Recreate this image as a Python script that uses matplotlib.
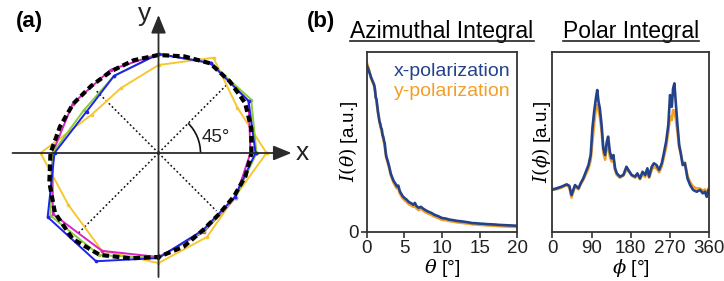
import numpy as np
import matplotlib
matplotlib.use("Agg")
import matplotlib.pyplot as plt
from matplotlib.patches import Arc
from matplotlib.lines import Line2D

plt.rcParams['font.family'] = ['Liberation Sans', 'DejaVu Sans']
plt.rcParams['mathtext.fontset'] = 'dejavuserif'

# ---------------- panel (a) data: polygon radii (pixel units) ----------------
poly_angles = [0, 30, 60, 90, 120, 150, 180, 210, 240, 270, 300, 330]
r_blue = [97, 104, 104, 99, 89, 83, 104, 128, 125, 105, 89, 88]
r_magenta = [92, 104, 104, 99, 96, 99, 106, 122, 113, 104, 91, 89]
r_green = [98, 107, 104, 99, 89, 86, 106, 125, 118, 105, 90, 89]
r_yellow = [108, 91, 110, 88, 75, 77, 118, 104, 113, 110, 97, 88]

ref_angles = [0, 15, 30, 45, 60, 75, 90, 105, 120, 135, 150, 165, 180, 195, 210,
              225, 240, 255, 270, 285, 300, 315, 330, 345]
r_ref = [93, 96, 100, 101, 103.5, 100, 98, 96, 94.5, 95, 98.5, 102, 108, 113,
         119.6, 121.5, 117.6, 109, 104, 97, 89, 86, 87, 90]

diag_angles = [45, 135, 225, 315]
diag_lengths = [96, 88, 113, 82]

# ---------------- panel (b) data ----------------
theta_az = [0, 0.2, 0.4, 0.6, 0.8, 1.0, 1.1, 1.2, 1.3, 1.4, 1.5, 1.6, 1.7, 1.8, 1.9,
            2.0, 2.1, 2.2, 2.3, 2.4, 2.5, 2.6, 2.8, 3.0, 3.2, 3.4, 3.6, 3.8, 4.0,
            4.2, 4.4, 4.6, 4.8, 5.0, 5.3, 5.6, 5.9, 6.2, 6.4, 6.6, 6.9, 7.2, 7.5,
            7.8, 8.2, 8.6, 9.0, 9.5, 10, 10.5, 11, 11.5, 12, 12.5, 13, 13.5, 14,
            14.5, 15, 15.5, 16, 16.5, 17, 17.5, 18, 18.5, 19, 19.5, 20]
I_az_x = [0.925, 0.905, 0.880, 0.855, 0.835, 0.815, 0.790, 0.745, 0.735, 0.700,
          0.665, 0.640, 0.612, 0.600, 0.578, 0.570, 0.538, 0.528, 0.505, 0.490,
          0.448, 0.418, 0.392, 0.360, 0.322, 0.300, 0.280, 0.268, 0.252, 0.256,
          0.225, 0.210, 0.196, 0.188, 0.178, 0.165, 0.158, 0.150, 0.160, 0.143,
          0.133, 0.138, 0.128, 0.120, 0.111, 0.104, 0.094, 0.086, 0.076, 0.073,
          0.067, 0.064, 0.060, 0.058, 0.055, 0.052, 0.048, 0.047, 0.045, 0.044,
          0.042, 0.041, 0.040, 0.038, 0.037, 0.036, 0.035, 0.034, 0.033]
I_az_y = [0.940, 0.915, 0.885, 0.850, 0.830, 0.805, 0.780, 0.755, 0.725, 0.690,
          0.660, 0.635, 0.605, 0.590, 0.570, 0.555, 0.530, 0.515, 0.495, 0.470,
          0.440, 0.410, 0.380, 0.350, 0.315, 0.290, 0.270, 0.255, 0.240, 0.240,
          0.212, 0.198, 0.185, 0.176, 0.165, 0.152, 0.146, 0.138, 0.146, 0.130,
          0.120, 0.128, 0.117, 0.108, 0.100, 0.093, 0.084, 0.076, 0.066, 0.064,
          0.059, 0.056, 0.052, 0.050, 0.047, 0.045, 0.041, 0.040, 0.038, 0.037,
          0.035, 0.034, 0.033, 0.031, 0.030, 0.029, 0.028, 0.027, 0.026]

phi_pol = [0, 10, 21, 33, 39, 44, 52, 60, 65, 71, 77, 83, 88, 92, 96, 100, 103, 106,
           109, 113, 117, 121, 125, 128, 132, 136, 140, 144, 148, 155, 163, 170, 177,
           182, 190, 195, 201, 207, 213, 218, 222, 228, 233, 239, 245, 251, 255, 261,
           266, 270, 274, 277, 280, 283, 287, 291, 294, 299, 304, 310, 316, 323, 331,
           339, 345, 350, 354, 358, 360]
I_pol_x = [0.232, 0.241, 0.250, 0.263, 0.255, 0.204, 0.259, 0.241, 0.269, 0.296,
           0.333, 0.370, 0.426, 0.574, 0.667, 0.741, 0.787, 0.722, 0.685, 0.593,
           0.463, 0.426, 0.500, 0.528, 0.444, 0.407, 0.426, 0.352, 0.324, 0.306,
           0.315, 0.361, 0.333, 0.315, 0.306, 0.324, 0.296, 0.333, 0.315, 0.352,
           0.306, 0.361, 0.380, 0.370, 0.343, 0.380, 0.426, 0.500, 0.593, 0.759,
           0.694, 0.796, 0.824, 0.722, 0.593, 0.481, 0.444, 0.370, 0.380, 0.296,
           0.259, 0.232, 0.222, 0.232, 0.213, 0.222, 0.194, 0.232, 0.222]
I_pol_y = [0.240, 0.236, 0.245, 0.258, 0.248, 0.190, 0.250, 0.236, 0.262, 0.288,
           0.320, 0.352, 0.398, 0.500, 0.600, 0.690, 0.704, 0.672, 0.640, 0.560,
           0.440, 0.400, 0.470, 0.490, 0.415, 0.390, 0.405, 0.340, 0.315, 0.300,
           0.312, 0.345, 0.330, 0.312, 0.300, 0.318, 0.292, 0.320, 0.305, 0.335,
           0.300, 0.345, 0.360, 0.352, 0.330, 0.365, 0.405, 0.470, 0.555, 0.640,
           0.620, 0.676, 0.670, 0.630, 0.555, 0.465, 0.440, 0.380, 0.385, 0.310,
           0.275, 0.250, 0.240, 0.240, 0.228, 0.235, 0.215, 0.240, 0.235]

az_xticks = [0, 5, 10, 15, 20]
pol_xticks = [0, 90, 180, 270, 360]
legend_labels = ['x-polarization', 'y-polarization']

BLUE_LINE = '#23428a'
ORANGE_LINE = '#f0a02a'

W, H = 724, 281
fig = plt.figure(figsize=(W / 100, H / 100), dpi=100)

# ---------------- panel (a) ----------------
axa = fig.add_axes([0, 0, 330 / W, 1])
axa.set_xlim(-158.5, 171.5)
axa.set_ylim(-128, 153)
axa.axis('off')

def closed_xy(angles, radii):
    a = np.deg2rad(np.array(list(angles) + [angles[0]], dtype=float))
    r = np.array(list(radii) + [radii[0]], dtype=float)
    return r * np.cos(a), r * np.sin(a)

axcol = '#2b2b2b'
axa.annotate('', xy=(133, 0), xytext=(-146, 0),
             arrowprops=dict(arrowstyle='-|>,head_length=1.1,head_width=0.45',
                             color=axcol, lw=1.3, shrinkA=0, shrinkB=0))
axa.annotate('', xy=(0, 138), xytext=(0, -124),
             arrowprops=dict(arrowstyle='-|>,head_length=1.1,head_width=0.45',
                             color=axcol, lw=1.3, shrinkA=0, shrinkB=0))
axa.text(143.5, 0, 'x', fontsize=19, ha='center', va='center', color='#222')
axa.text(-14, 139, 'y', fontsize=19, ha='center', va='center', color='#222')

for ang, ln in zip(diag_angles, diag_lengths):
    t = np.deg2rad(ang)
    axa.plot([0, ln * np.cos(t)], [0, ln * np.sin(t)], color='#111',
             lw=1.1, linestyle=(0, (1.2, 1.6)))

axa.add_patch(Arc((0, 0), 84, 84, theta1=0, theta2=45, color='#111', lw=1.2))
axa.text(57, 15, '45°', fontsize=13.5, ha='center', va='center', color='#222')

for radii, col in [(r_yellow, '#f5c832'), (r_magenta, '#dd22c8'),
                   (r_green, '#8acc3a'), (r_blue, '#1e22ee')]:
    xs, ys = closed_xy(poly_angles, radii)
    axa.plot(xs, ys, color=col, lw=1.4, marker='o', markersize=1.6)

xs, ys = closed_xy(ref_angles, r_ref)
axa.plot(xs, ys, color='black', lw=3.0, linestyle=(0, (1.6, 0.9)))

fig.text(29 / W, 1 - 22 / H, '(a)', fontsize=16, fontweight='bold',
         ha='center', va='center')
fig.text(321 / W, 1 - 21 / H, '(b)', fontsize=16, fontweight='bold',
         ha='center', va='center')

# ---------------- panel (b) ----------------
bot = (H - 231.7) / H
hgt = 180 / H
ax1 = fig.add_axes([366.7 / W, bot, 150.6 / W, hgt])
ax2 = fig.add_axes([552.3 / W, bot, 157 / W, hgt])

ax1.plot(theta_az, I_az_y, color=ORANGE_LINE, lw=1.9, solid_joinstyle='round')
ax1.plot(theta_az, I_az_x, color=BLUE_LINE, lw=1.9, solid_joinstyle='round')
ax1.set_xlim(0, 20)
ax1.set_ylim(0, 1)
ax1.set_xticks(az_xticks)
ax1.set_yticks([0])

ax2.plot(phi_pol, I_pol_y, color=ORANGE_LINE, lw=1.9, solid_joinstyle='round')
ax2.plot(phi_pol, I_pol_x, color=BLUE_LINE, lw=1.9, solid_joinstyle='round')
ax2.set_xlim(0, 360)
ax2.set_ylim(0, 1)
ax2.set_xticks(pol_xticks)
ax2.set_yticks([])

for ax in (ax1, ax2):
    for s in ax.spines.values():
        s.set_color('#333333')
        s.set_linewidth(1.3)
    ax.tick_params(axis='both', direction='out', length=4, width=1.2,
                   labelsize=13.5, pad=2, colors='#333333', labelcolor='#222')

ax1.set_xlabel(r'$\theta$ [°]', fontsize=14, labelpad=0)
ax2.set_xlabel(r'$\phi$ [°]', fontsize=14, labelpad=0)
ax1.text(-0.122, 0.5, r'$I(\theta)$ [a.u.]', rotation=90, fontsize=13.5,
         ha='center', va='center', transform=ax1.transAxes)
ax2.text(-0.07, 0.5, r'$I(\phi)$ [a.u.]', rotation=90, fontsize=13.5,
         ha='center', va='center', transform=ax2.transAxes)

ax1.text(0.955, 0.889, legend_labels[0], color='#23428a', fontsize=14,
         ha='right', va='center', transform=ax1.transAxes)
ax1.text(0.955, 0.778, legend_labels[1], color='#f0a02a', fontsize=14,
         ha='right', va='center', transform=ax1.transAxes)

titles = []
titles.append(ax1.text(0.5, 1 + 13.4 / 180, 'Azimuthal Integral', fontsize=16.5,
                       ha='center', va='baseline', transform=ax1.transAxes))
titles.append(ax2.text(0.5, 1 + 13.4 / 180, 'Polar Integral', fontsize=16.5,
                       ha='center', va='baseline', transform=ax2.transAxes))

fig.canvas.draw()
renderer = fig.canvas.get_renderer()
for t in titles:
    bb = t.get_window_extent(renderer)
    ybase = H - 38.3 - 2.6
    fig.add_artist(Line2D([bb.x0 / W, bb.x1 / W], [ybase / H, ybase / H],
                          transform=fig.transFigure, color='#222', lw=1.2))

fig.savefig('out.png', dpi=100)
